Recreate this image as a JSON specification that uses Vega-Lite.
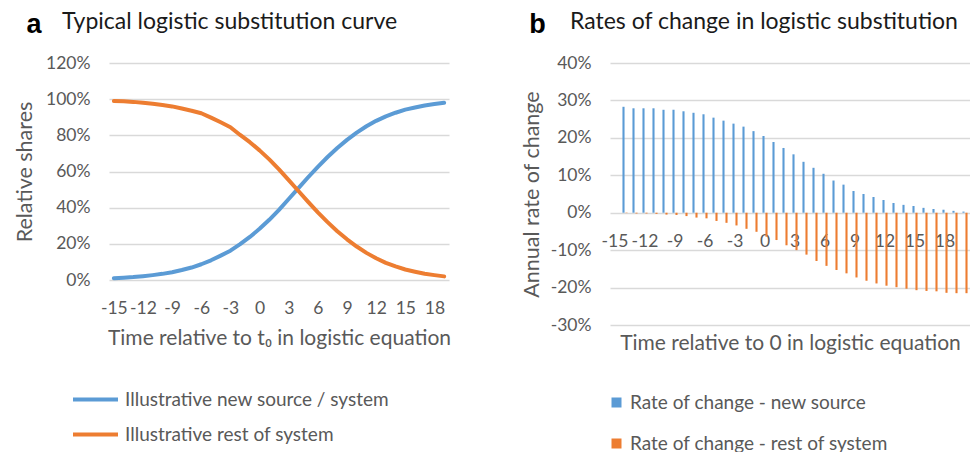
{
  "$schema": "https://vega.github.io/schema/vega-lite/v6.json",
  "background": "white",
  "padding": {"left": 14, "top": 11, "right": 0, "bottom": 0},
  "config": {
    "view": {"stroke": null},
    "font": "Lato",
    "axis": {"labelFont": "Lato", "labelFontSize": 17.5, "labelColor": "#595959", "titleFont": "Lato", "titleFontSize": 21.5, "titleFontWeight": "normal", "titleColor": "#595959", "gridColor": "#D9D9D9", "gridWidth": 1.3, "domain": false, "ticks": false, "zindex": 0},
    "legend": {"labelFont": "Lato", "labelFontSize": 19, "labelColor": "#595959", "labelLimit": 500}
  },
  "resolve": {"scale": {"color": "independent"}, "legend": {"color": "independent"}},
  "datasets": {
    "shares": [
      {"t": -15, "series": "Illustrative new source / system", "share": 0.010},
      {"t": -14, "series": "Illustrative new source / system", "share": 0.013},
      {"t": -13, "series": "Illustrative new source / system", "share": 0.016},
      {"t": -12, "series": "Illustrative new source / system", "share": 0.021},
      {"t": -11, "series": "Illustrative new source / system", "share": 0.027},
      {"t": -10, "series": "Illustrative new source / system", "share": 0.034},
      {"t": -9, "series": "Illustrative new source / system", "share": 0.043},
      {"t": -8, "series": "Illustrative new source / system", "share": 0.055},
      {"t": -7, "series": "Illustrative new source / system", "share": 0.069},
      {"t": -6, "series": "Illustrative new source / system", "share": 0.087},
      {"t": -5, "series": "Illustrative new source / system", "share": 0.109},
      {"t": -4, "series": "Illustrative new source / system", "share": 0.135},
      {"t": -3, "series": "Illustrative new source / system", "share": 0.162},
      {"t": -2, "series": "Illustrative new source / system", "share": 0.198},
      {"t": -1, "series": "Illustrative new source / system", "share": 0.238},
      {"t": 0, "series": "Illustrative new source / system", "share": 0.283},
      {"t": 1, "series": "Illustrative new source / system", "share": 0.333},
      {"t": 2, "series": "Illustrative new source / system", "share": 0.388},
      {"t": 3, "series": "Illustrative new source / system", "share": 0.448},
      {"t": 4, "series": "Illustrative new source / system", "share": 0.508},
      {"t": 5, "series": "Illustrative new source / system", "share": 0.568},
      {"t": 6, "series": "Illustrative new source / system", "share": 0.626},
      {"t": 7, "series": "Illustrative new source / system", "share": 0.680},
      {"t": 8, "series": "Illustrative new source / system", "share": 0.730},
      {"t": 9, "series": "Illustrative new source / system", "share": 0.775},
      {"t": 10, "series": "Illustrative new source / system", "share": 0.815},
      {"t": 11, "series": "Illustrative new source / system", "share": 0.850},
      {"t": 12, "series": "Illustrative new source / system", "share": 0.880},
      {"t": 13, "series": "Illustrative new source / system", "share": 0.905},
      {"t": 14, "series": "Illustrative new source / system", "share": 0.925},
      {"t": 15, "series": "Illustrative new source / system", "share": 0.942},
      {"t": 16, "series": "Illustrative new source / system", "share": 0.954},
      {"t": 17, "series": "Illustrative new source / system", "share": 0.965},
      {"t": 18, "series": "Illustrative new source / system", "share": 0.973},
      {"t": 19, "series": "Illustrative new source / system", "share": 0.980},
      {"t": -15, "series": "Illustrative rest of system", "share": 0.990},
      {"t": -14, "series": "Illustrative rest of system", "share": 0.988},
      {"t": -13, "series": "Illustrative rest of system", "share": 0.985},
      {"t": -12, "series": "Illustrative rest of system", "share": 0.980},
      {"t": -11, "series": "Illustrative rest of system", "share": 0.975},
      {"t": -10, "series": "Illustrative rest of system", "share": 0.968},
      {"t": -9, "series": "Illustrative rest of system", "share": 0.960},
      {"t": -8, "series": "Illustrative rest of system", "share": 0.948},
      {"t": -7, "series": "Illustrative rest of system", "share": 0.936},
      {"t": -6, "series": "Illustrative rest of system", "share": 0.922},
      {"t": -5, "series": "Illustrative rest of system", "share": 0.898},
      {"t": -4, "series": "Illustrative rest of system", "share": 0.872},
      {"t": -3, "series": "Illustrative rest of system", "share": 0.845},
      {"t": -2, "series": "Illustrative rest of system", "share": 0.802},
      {"t": -1, "series": "Illustrative rest of system", "share": 0.762},
      {"t": 0, "series": "Illustrative rest of system", "share": 0.717},
      {"t": 1, "series": "Illustrative rest of system", "share": 0.667},
      {"t": 2, "series": "Illustrative rest of system", "share": 0.612},
      {"t": 3, "series": "Illustrative rest of system", "share": 0.552},
      {"t": 4, "series": "Illustrative rest of system", "share": 0.492},
      {"t": 5, "series": "Illustrative rest of system", "share": 0.432},
      {"t": 6, "series": "Illustrative rest of system", "share": 0.374},
      {"t": 7, "series": "Illustrative rest of system", "share": 0.320},
      {"t": 8, "series": "Illustrative rest of system", "share": 0.270},
      {"t": 9, "series": "Illustrative rest of system", "share": 0.225},
      {"t": 10, "series": "Illustrative rest of system", "share": 0.185},
      {"t": 11, "series": "Illustrative rest of system", "share": 0.150},
      {"t": 12, "series": "Illustrative rest of system", "share": 0.120},
      {"t": 13, "series": "Illustrative rest of system", "share": 0.095},
      {"t": 14, "series": "Illustrative rest of system", "share": 0.075},
      {"t": 15, "series": "Illustrative rest of system", "share": 0.058},
      {"t": 16, "series": "Illustrative rest of system", "share": 0.046},
      {"t": 17, "series": "Illustrative rest of system", "share": 0.035},
      {"t": 18, "series": "Illustrative rest of system", "share": 0.027},
      {"t": 19, "series": "Illustrative rest of system", "share": 0.020}
    ],
    "rates": [
      {"t": -14, "series": "Rate of change - new source", "rate": 0.283},
      {"t": -13, "series": "Rate of change - new source", "rate": 0.279},
      {"t": -12, "series": "Rate of change - new source", "rate": 0.279},
      {"t": -11, "series": "Rate of change - new source", "rate": 0.279},
      {"t": -10, "series": "Rate of change - new source", "rate": 0.275},
      {"t": -9, "series": "Rate of change - new source", "rate": 0.275},
      {"t": -8, "series": "Rate of change - new source", "rate": 0.271},
      {"t": -7, "series": "Rate of change - new source", "rate": 0.267},
      {"t": -6, "series": "Rate of change - new source", "rate": 0.263},
      {"t": -5, "series": "Rate of change - new source", "rate": 0.254},
      {"t": -4, "series": "Rate of change - new source", "rate": 0.246},
      {"t": -3, "series": "Rate of change - new source", "rate": 0.238},
      {"t": -2, "series": "Rate of change - new source", "rate": 0.230},
      {"t": -1, "series": "Rate of change - new source", "rate": 0.218},
      {"t": 0, "series": "Rate of change - new source", "rate": 0.205},
      {"t": 1, "series": "Rate of change - new source", "rate": 0.189},
      {"t": 2, "series": "Rate of change - new source", "rate": 0.173},
      {"t": 3, "series": "Rate of change - new source", "rate": 0.156},
      {"t": 4, "series": "Rate of change - new source", "rate": 0.136},
      {"t": 5, "series": "Rate of change - new source", "rate": 0.120},
      {"t": 6, "series": "Rate of change - new source", "rate": 0.104},
      {"t": 7, "series": "Rate of change - new source", "rate": 0.086},
      {"t": 8, "series": "Rate of change - new source", "rate": 0.075},
      {"t": 9, "series": "Rate of change - new source", "rate": 0.058},
      {"t": 10, "series": "Rate of change - new source", "rate": 0.050},
      {"t": 11, "series": "Rate of change - new source", "rate": 0.042},
      {"t": 12, "series": "Rate of change - new source", "rate": 0.034},
      {"t": 13, "series": "Rate of change - new source", "rate": 0.026},
      {"t": 14, "series": "Rate of change - new source", "rate": 0.021},
      {"t": 15, "series": "Rate of change - new source", "rate": 0.018},
      {"t": 16, "series": "Rate of change - new source", "rate": 0.013},
      {"t": 17, "series": "Rate of change - new source", "rate": 0.010},
      {"t": 18, "series": "Rate of change - new source", "rate": 0.008},
      {"t": 19, "series": "Rate of change - new source", "rate": 0.005},
      {"t": 20, "series": "Rate of change - new source", "rate": 0.003},
      {"t": -14, "series": "Rate of change - rest of system", "rate": -0.001},
      {"t": -13, "series": "Rate of change - rest of system", "rate": -0.002},
      {"t": -12, "series": "Rate of change - rest of system", "rate": -0.002},
      {"t": -11, "series": "Rate of change - rest of system", "rate": -0.003},
      {"t": -10, "series": "Rate of change - rest of system", "rate": -0.005},
      {"t": -9, "series": "Rate of change - rest of system", "rate": -0.006},
      {"t": -8, "series": "Rate of change - rest of system", "rate": -0.009},
      {"t": -7, "series": "Rate of change - rest of system", "rate": -0.013},
      {"t": -6, "series": "Rate of change - rest of system", "rate": -0.015},
      {"t": -5, "series": "Rate of change - rest of system", "rate": -0.022},
      {"t": -4, "series": "Rate of change - rest of system", "rate": -0.027},
      {"t": -3, "series": "Rate of change - rest of system", "rate": -0.034},
      {"t": -2, "series": "Rate of change - rest of system", "rate": -0.043},
      {"t": -1, "series": "Rate of change - rest of system", "rate": -0.051},
      {"t": 0, "series": "Rate of change - rest of system", "rate": -0.064},
      {"t": 1, "series": "Rate of change - rest of system", "rate": -0.073},
      {"t": 2, "series": "Rate of change - rest of system", "rate": -0.087},
      {"t": 3, "series": "Rate of change - rest of system", "rate": -0.100},
      {"t": 4, "series": "Rate of change - rest of system", "rate": -0.112},
      {"t": 5, "series": "Rate of change - rest of system", "rate": -0.129},
      {"t": 6, "series": "Rate of change - rest of system", "rate": -0.142},
      {"t": 7, "series": "Rate of change - rest of system", "rate": -0.153},
      {"t": 8, "series": "Rate of change - rest of system", "rate": -0.162},
      {"t": 9, "series": "Rate of change - rest of system", "rate": -0.173},
      {"t": 10, "series": "Rate of change - rest of system", "rate": -0.182},
      {"t": 11, "series": "Rate of change - rest of system", "rate": -0.189},
      {"t": 12, "series": "Rate of change - rest of system", "rate": -0.195},
      {"t": 13, "series": "Rate of change - rest of system", "rate": -0.199},
      {"t": 14, "series": "Rate of change - rest of system", "rate": -0.203},
      {"t": 15, "series": "Rate of change - rest of system", "rate": -0.207},
      {"t": 16, "series": "Rate of change - rest of system", "rate": -0.209},
      {"t": 17, "series": "Rate of change - rest of system", "rate": -0.210},
      {"t": 18, "series": "Rate of change - rest of system", "rate": -0.214},
      {"t": 19, "series": "Rate of change - rest of system", "rate": -0.215},
      {"t": 20, "series": "Rate of change - rest of system", "rate": -0.215}
    ]
  },
  "spacing": 70,
  "hconcat": [
    {
      "title": {"text": "a", "font": "Liberation Sans", "fontSize": 27, "fontWeight": "bold", "color": "#000000", "anchor": "start", "frame": "bounds", "offset": 0, "dy": 28, "dx": 12},
      "vconcat": [
        {
          "width": 340,
          "height": 217,
          "title": {"text": "Typical logistic substitution curve", "font": "Lato", "fontSize": 23, "fontWeight": "normal", "color": "#1a1a1a", "anchor": "start", "frame": "group", "dx": -47, "offset": 20},
          "data": {"name": "shares"},
          "mark": {"type": "line", "strokeWidth": 4, "strokeCap": "round", "strokeJoin": "round"},
          "encoding": {
            "x": {"field": "t", "type": "quantitative", "scale": {"domain": [-15.5, 19.5], "nice": false, "zero": false},
                  "axis": {"values": [-15, -12, -9, -6, -3, 0, 3, 6, 9, 12, 15, 18], "labelExpr": "'' + datum.value", "grid": false, "labelPadding": 19, "title": "Time relative to t₀ in logistic equation", "titleFontSize": 21, "titlePadding": 11}},
            "y": {"field": "share", "type": "quantitative", "scale": {"domain": [0, 1.2], "nice": false},
                  "axis": {"values": [0, 0.2, 0.4, 0.6, 0.8, 1.0, 1.2], "labelExpr": "round(datum.value*100) + '%'", "labelPadding": 19, "title": "Relative shares", "titlePadding": 9}},
            "color": {"field": "series", "type": "nominal",
                      "scale": {"domain": ["Illustrative new source / system", "Illustrative rest of system"], "range": ["#5B9BD5", "#ED7D31"]},
                      "legend": {"orient": "none", "legendX": -38, "legendY": 312, "direction": "vertical", "title": null, "symbolType": "stroke", "symbolSize": 2025, "symbolStrokeWidth": 4, "rowPadding": 0, "labelOffset": 5}}
          }
        }
      ]
    },
    {
      "title": {"text": "b", "font": "Liberation Sans", "fontSize": 27, "fontWeight": "bold", "color": "#000000", "anchor": "start", "frame": "bounds", "offset": 0, "dy": 28, "dx": 8},
      "vconcat": [
        {
          "width": 360,
          "height": 262,
          "title": {"text": "Rates of change in logistic substitution", "font": "Lato", "fontSize": 23, "fontWeight": "normal", "color": "#1a1a1a", "anchor": "start", "frame": "group", "dx": -40, "offset": 20},
          "data": {"name": "rates"},
          "mark": {"type": "bar"},
          "encoding": {
            "x": {"field": "t", "type": "ordinal",
                  "scale": {"domain": [-15, -14, -13, -12, -11, -10, -9, -8, -7, -6, -5, -4, -3, -2, -1, 0, 1, 2, 3, 4, 5, 6, 7, 8, 9, 10, 11, 12, 13, 14, 15, 16, 17, 18, 19, 20], "paddingInner": 0.4, "paddingOuter": 0.2},
                  "axis": {"values": [-15, -12, -9, -6, -3, 0, 3, 6, 9, 12, 15, 18], "labelExpr": "'' + datum.value", "labelAngle": 0, "labelPadding": -93, "title": "Time relative to 0 in logistic equation", "titleFontSize": 21, "titleY": 7, "titleBaseline": "top"}},
            "xOffset": {"field": "series", "type": "nominal", "scale": {"domain": ["Rate of change - new source", "Rate of change - rest of system"], "paddingInner": 0.3, "paddingOuter": 0.15}},
            "y": {"field": "rate", "type": "quantitative", "scale": {"domain": [-0.3, 0.4], "nice": false},
                  "axis": {"values": [-0.3, -0.2, -0.1, 0, 0.1, 0.2, 0.3, 0.4], "labelExpr": "round(datum.value*100) + '%'", "labelPadding": 19, "title": "Annual rate of change", "titlePadding": 7}},
            "color": {"field": "series", "type": "nominal",
                      "scale": {"domain": ["Rate of change - new source", "Rate of change - rest of system"], "range": ["#5B9BD5", "#ED7D31"]},
                      "legend": {"orient": "none", "legendX": -3, "legendY": 330, "direction": "vertical", "title": null, "symbolType": "square", "symbolSize": 100, "symbolStrokeWidth": 0, "rowPadding": 21, "labelOffset": 4}}
          }
        }
      ]
    }
  ]
}
